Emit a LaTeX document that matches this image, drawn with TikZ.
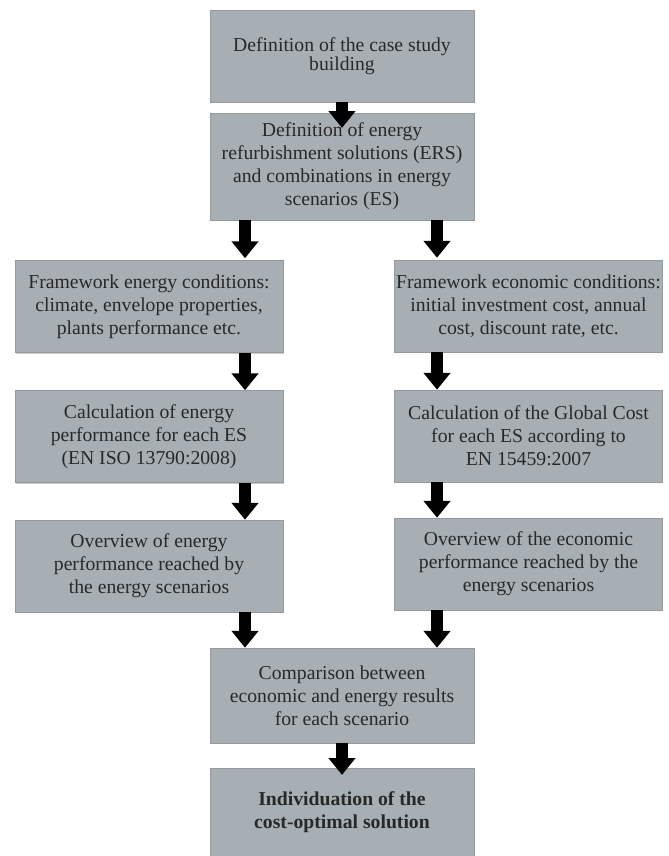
\documentclass[tikz,border=0pt]{standalone}
\usepackage{fontspec}
\setmainfont{Liberation Serif}
\usepackage{tikz}
\usetikzlibrary{arrows.meta}
\usetikzlibrary{shadows}
\definecolor{boxgray}{RGB}{168,175,180}
\definecolor{textgray}{RGB}{40,40,40}

\begin{document}
\begin{tikzpicture}[x=0.025cm, y=-0.025cm]
				\useasboundingbox (0,0) rectangle (669,856);
				\coordinate (colL) at (245,0);
				\coordinate (colR) at (437,0);
				\begin{scope}[every node/.style = {rectangle, fill=boxgray, draw=boxgray!88!black, line width=0.4pt,
						drop shadow={shadow xshift=0.7pt, shadow yshift=-0.7pt, opacity=0.4},
						align=center, text=textgray, inner sep=0pt,
						font=\fontsize{14}{16.3}\selectfont},
					midbox/.style={minimum width=6.6cm},
					sidebox/.style={minimum width=6.69cm, minimum height=2.3cm}]
					\node[midbox, minimum height=2.3cm, font=\fontsize{14}{13.2}\selectfont] (def) at (342,56) {Definition of the case study\\building};
					\node[midbox, minimum height=2.675cm] (ers) at (342,166.5) {Definition of energy\\refurbishment solutions (ERS)\\and combinations in energy\\scenarios (ES)};
					\node[sidebox] (fenergy) at (149,306.5) {Framework energy conditions:\\climate, envelope properties,\\plants performance etc.};
					\node[sidebox] (fecon) at (528.5,306) {Framework economic conditions:\\initial investment cost, annual\\cost, discount rate, etc.};
					\node[sidebox] (cenergy) at (149,436.5) {Calculation of energy\\performance for each ES\\(EN ISO 13790:2008)};
					\node[sidebox] (cecon) at (528.5,436) {Calculation of the Global Cost\\for each ES according to\\EN 15459:2007};
					\node[sidebox] (oenergy) at (149,566) {Overview of energy\\performance reached by\\the energy scenarios};
					\node[sidebox] (oecon) at (528.5,564) {Overview of the economic\\performance reached by the\\energy scenarios};
					\node[midbox, minimum height=2.375cm] (compare) at (342,695.5) {Comparison between\\economic and energy results\\for each scenario};
					\node[midbox, minimum height=2.2cm, font=\fontsize{14}{16.3}\selectfont\bfseries] (optimal) at (342,812) {Individuation of the\\cost-optimal solution};
				\end{scope}
				\begin{scope}[>={Triangle[width=0.65cm, length=0.42cm]},
						every edge/.style={draw=black, line width=0.3cm}]
					\path [->] (def.south) edge[shorten >=-0.38cm] (ers.north);
					\path [->] (ers.south -| colL) edge[shorten >=0.05cm] (fenergy.north -| colL);
					\path [->] (ers.south -| colR) edge[shorten >=0.05cm] (fecon.north -| colR);
					\path [->] (fenergy.south -| colL) edge (cenergy.north -| colL);
					\path [->] (fecon.south -| colR) edge (cecon.north -| colR);
					\path [->] (cenergy.south -| colL) edge (oenergy.north -| colL);
					\path [->] (cecon.south -| colR) edge (oecon.north -| colR);
					\path [->] (oenergy.south -| colL) edge (compare.north -| colL);
					\path [->] (oecon.south -| colR) edge (compare.north -| colR);
					\path [->] (compare.south) edge[shorten >=-0.18cm] (optimal.north);
				\end{scope}
			\end{tikzpicture}
\end{document}
